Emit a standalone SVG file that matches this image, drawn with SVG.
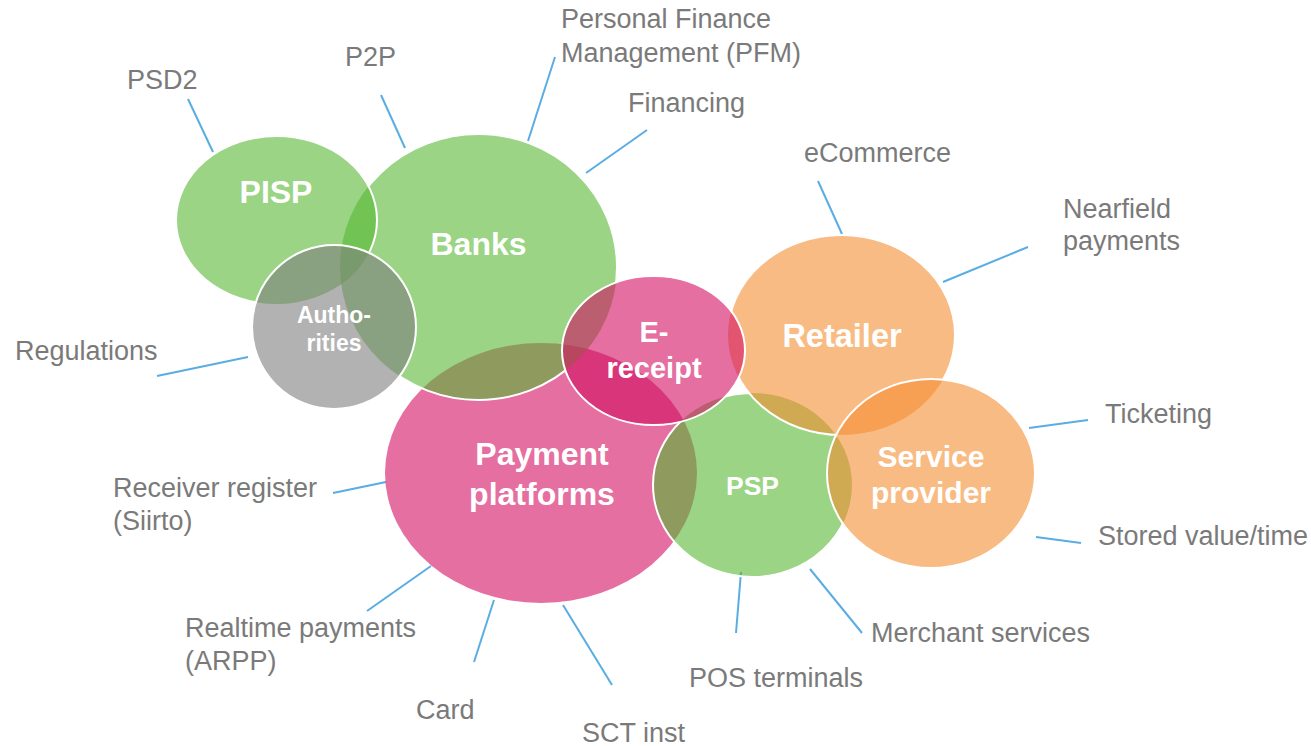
<svg xmlns="http://www.w3.org/2000/svg" xmlns:xlink="http://www.w3.org/1999/xlink" width="1311" height="746" viewBox="0 0 1311 746">
<style>
.green{fill:#57b732;fill-opacity:0.6}
.pink{fill:#d20f61;fill-opacity:0.6}
.orange{fill:#f58e32;fill-opacity:0.6}
.grey{fill:#7f7f7f;fill-opacity:0.6}
.edge{fill:none;stroke:#ffffff;stroke-width:2}
.in{font-family:"Liberation Sans",Arial,sans-serif;font-weight:bold;fill:#ffffff;text-anchor:middle}
.lbl{font-family:"Liberation Sans",Arial,sans-serif;font-size:27px;fill:#7a7a7a}
.lead{stroke:#5aade2;stroke-width:2;fill:none}
</style>
<defs>
<ellipse id="e-pp" cx="541" cy="473" rx="156" ry="130"/>
<ellipse id="e-psp" cx="752.5" cy="485" rx="99.5" ry="92"/>
<ellipse id="e-ret" cx="841.5" cy="335" rx="113.5" ry="100"/>
<ellipse id="e-sp" cx="931" cy="473.5" rx="104" ry="94.5"/>
<ellipse id="e-banks" cx="478.5" cy="267" rx="138.5" ry="133"/>
<ellipse id="e-pisp" cx="276.5" cy="220" rx="100.5" ry="84"/>
<ellipse id="e-auth" cx="334" cy="327" rx="82" ry="82"/>
<ellipse id="e-er" cx="653.5" cy="350.5" rx="91.5" ry="74.5"/>
<mask id="m-psp" maskUnits="userSpaceOnUse" x="0" y="0" width="1311" height="746">
<rect width="1311" height="746" fill="#fff"/>
<use xlink:href="#e-ret" fill="#000"/><use xlink:href="#e-sp" fill="#000"/><use xlink:href="#e-er" fill="#000"/>
</mask>
<mask id="m-ret" maskUnits="userSpaceOnUse" x="0" y="0" width="1311" height="746">
<rect width="1311" height="746" fill="#fff"/>
<use xlink:href="#e-sp" fill="#000"/><use xlink:href="#e-er" fill="#000"/>
</mask>
<mask id="m-banks" maskUnits="userSpaceOnUse" x="0" y="0" width="1311" height="746">
<rect width="1311" height="746" fill="#fff"/>
<use xlink:href="#e-pisp" fill="#000"/><use xlink:href="#e-auth" fill="#000"/><use xlink:href="#e-er" fill="#000"/>
</mask>
<mask id="m-pisp" maskUnits="userSpaceOnUse" x="0" y="0" width="1311" height="746">
<rect width="1311" height="746" fill="#fff"/>
<use xlink:href="#e-auth" fill="#000"/>
</mask>
</defs>
<rect width="1311" height="746" fill="#ffffff"/>

<g id="connectors">
<line class="lead" x1="188" y1="99" x2="213" y2="152"/>
<line class="lead" x1="381" y1="95" x2="405" y2="148"/>
<line class="lead" x1="555" y1="57" x2="528" y2="141"/>
<line class="lead" x1="647" y1="130" x2="586" y2="173"/>
<line class="lead" x1="818" y1="181" x2="842" y2="234"/>
<line class="lead" x1="1028" y1="247" x2="943" y2="282"/>
<line class="lead" x1="157" y1="376" x2="248" y2="357"/>
<line class="lead" x1="333" y1="493" x2="386" y2="482"/>
<line class="lead" x1="367" y1="611" x2="431" y2="566"/>
<line class="lead" x1="474" y1="662" x2="494" y2="600"/>
<line class="lead" x1="563" y1="605" x2="612" y2="685"/>
<line class="lead" x1="741" y1="572" x2="736" y2="633"/>
<line class="lead" x1="810" y1="569" x2="862" y2="633"/>
<line class="lead" x1="1029" y1="428" x2="1088" y2="420"/>
<line class="lead" x1="1036" y1="537" x2="1081" y2="543"/>
</g>

<g id="node-payment-platforms">
<use xlink:href="#e-pp" class="pink"/>
<text class="in" font-size="32" x="542" y="465">Payment</text>
<text class="in" font-size="32" x="542" y="505">platforms</text>
</g>
<g id="node-psp">
<use xlink:href="#e-psp" class="green"/>
<use xlink:href="#e-psp" class="edge" mask="url(#m-psp)"/>
<text class="in" font-size="26.5" x="752.5" y="495">PSP</text>
</g>
<g id="node-retailer">
<use xlink:href="#e-ret" class="orange"/>
<use xlink:href="#e-ret" class="edge" mask="url(#m-ret)"/>
<text class="in" font-size="32.5" x="842" y="347">Retailer</text>
</g>
<g id="node-service-provider">
<use xlink:href="#e-sp" class="orange"/>
<use xlink:href="#e-sp" class="edge"/>
<text class="in" font-size="30" x="931" y="467">Service</text>
<text class="in" font-size="30" x="931" y="503">provider</text>
</g>
<g id="node-banks">
<use xlink:href="#e-banks" class="green"/>
<use xlink:href="#e-banks" class="edge" mask="url(#m-banks)"/>
<text class="in" font-size="32" x="478.5" y="255">Banks</text>
</g>
<g id="node-pisp">
<use xlink:href="#e-pisp" class="green"/>
<use xlink:href="#e-pisp" class="edge" mask="url(#m-pisp)"/>
<text class="in" font-size="32" x="276" y="203">PISP</text>
</g>
<g id="node-authorities">
<use xlink:href="#e-auth" class="grey"/>
<use xlink:href="#e-auth" class="edge"/>
<text class="in" font-size="23" x="334" y="323">Autho-</text>
<text class="in" font-size="23" x="334" y="351">rities</text>
</g>
<g id="node-e-receipt">
<use xlink:href="#e-er" class="pink"/>
<use xlink:href="#e-er" class="edge"/>
<text class="in" font-size="29" x="654" y="342">E-</text>
<text class="in" font-size="29" x="654" y="378">receipt</text>
</g>

<g id="labels">
<text class="lbl" x="127" y="89">PSD2</text>
<text class="lbl" x="345" y="66">P2P</text>
<text class="lbl" x="561" y="28">Personal Finance</text>
<text class="lbl" x="561" y="62">Management (PFM)</text>
<text class="lbl" x="628" y="112">Financing</text>
<text class="lbl" x="804" y="162">eCommerce</text>
<text class="lbl" x="1063" y="218">Nearfield</text>
<text class="lbl" x="1063" y="250">payments</text>
<text class="lbl" x="15" y="360">Regulations</text>
<text class="lbl" x="113" y="497">Receiver register</text>
<text class="lbl" x="113" y="530">(Siirto)</text>
<text class="lbl" x="185" y="637">Realtime payments</text>
<text class="lbl" x="185" y="670">(ARPP)</text>
<text class="lbl" x="416" y="719">Card</text>
<text class="lbl" x="582" y="742">SCT inst</text>
<text class="lbl" x="689" y="687">POS terminals</text>
<text class="lbl" x="871" y="642">Merchant services</text>
<text class="lbl" x="1105" y="423">Ticketing</text>
<text class="lbl" x="1098" y="545">Stored value/time</text>
</g>
</svg>
